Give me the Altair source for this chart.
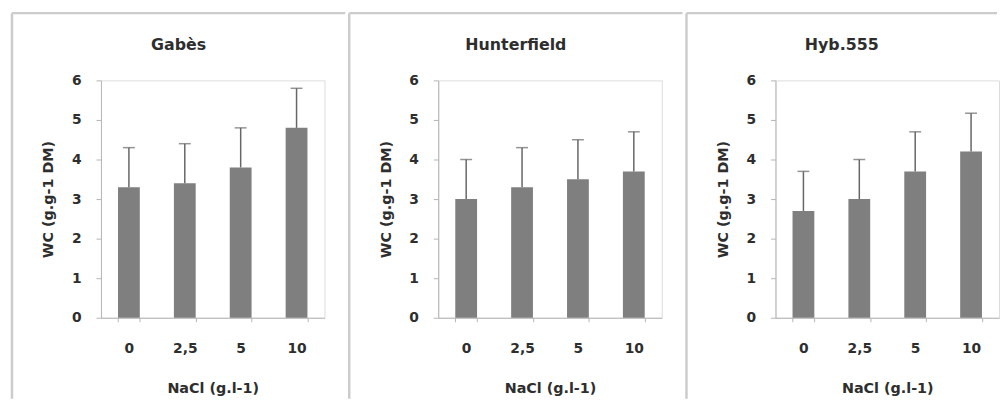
import altair as alt
import pandas as pd

varieties = ["Gabès", "Hunterfield", "Hyb.555"]
nacl_levels = ["0", "2,5", "5", "10"]
wc_gabes = [3.3, 3.4, 3.8, 4.8]
wc_hunterfield = [3.0, 3.3, 3.5, 3.7]
wc_hyb555 = [2.7, 3.0, 3.7, 4.2]
err_gabes = [1.0, 1.0, 1.0, 1.0]
err_hunterfield = [1.0, 1.0, 1.0, 1.0]
err_hyb555 = [1.0, 1.0, 1.0, 0.97]
y_ticks = [0, 1, 2, 3, 4, 5, 6]

FONT = "DejaVu Sans"
TEXT = "#2e2e2e"
AXIS = "#b5b5b5"
FRAME = "#cccccc"
PW, PH = 226, 240


def panel(name, vals, errs, frame_right):
    df = pd.DataFrame({
        "nacl": nacl_levels,
        "wc": vals,
        "top": [v + e for v, e in zip(vals, errs)],
    })
    xs = alt.Scale(paddingInner=0.61, paddingOuter=0.305)
    x_axis = alt.Axis(title="NaCl (g.l-1)", labelAngle=0, tickBand="extent",
                      domainColor=AXIS, tickColor=AXIS, tickSize=4,
                      labelPadding=20, titlePadding=27,
                      labelFont=FONT, labelFontSize=14, labelFontWeight="bold", labelColor=TEXT,
                      titleFont=FONT, titleFontSize=14.5, titleFontWeight="bold", titleColor=TEXT)
    y_axis = alt.Axis(title="WC (g.g-1 DM)", values=y_ticks, grid=False,
                      domainColor=AXIS, tickColor=AXIS, tickSize=5,
                      labelPadding=15, titlePadding=16,
                      labelFont=FONT, labelFontSize=14, labelFontWeight="bold", labelColor=TEXT,
                      titleFont=FONT, titleFontSize=14.5, titleFontWeight="bold", titleColor=TEXT)
    x = alt.X("nacl:N", sort=nacl_levels, scale=xs, axis=x_axis)
    ys = alt.Scale(domain=[0, 6], nice=False)

    bars = alt.Chart(df).mark_bar(color="#7f7f7f").encode(
        x=x, y=alt.Y("wc:Q", scale=ys, axis=y_axis))
    whisk = alt.Chart(df).mark_rule(color="#666666", strokeWidth=1.5).encode(
        x=x, y=alt.Y("wc:Q", scale=ys, axis=y_axis), y2="top:Q")
    cap = alt.Chart(df).mark_tick(color="#666666", size=12, thickness=1.5).encode(
        x=x, y=alt.Y("top:Q", scale=ys, axis=y_axis))

    tdf = pd.DataFrame({"name": [name]})
    title = alt.Chart(tdf).mark_text(font=FONT, fontSize=16, fontWeight="bold",
                                     color=TEXT, align="center", baseline="middle").encode(
        text="name:N", x=alt.value((-90 + frame_right) / 2), y=alt.value(-36))
    top_line = alt.Chart(tdf).mark_rule(color=FRAME, strokeWidth=2.5).encode(
        x=alt.value(-90), x2=alt.value(frame_right), y=alt.value(-68))
    left_line = alt.Chart(tdf).mark_rule(color=FRAME, strokeWidth=2.5).encode(
        x=alt.value(-90), y=alt.value(-68), y2=alt.value(322))

    return alt.layer(top_line, left_line, bars, whisk, cap, title).properties(
        width=PW, height=PH)


chart = alt.hconcat(
    panel(varieties[0], wc_gabes, err_gabes, 247),
    panel(varieties[1], wc_hunterfield, err_hunterfield, 247),
    panel(varieties[2], wc_hyb555, err_hyb555, 224),
    spacing=0,
).properties(
    padding={"left": 2, "top": 1, "right": 0, "bottom": 0}
).configure_view(stroke=None).configure(background="white")

chart.save("out.html", embed_options={"renderer": "svg", "actions": False})
